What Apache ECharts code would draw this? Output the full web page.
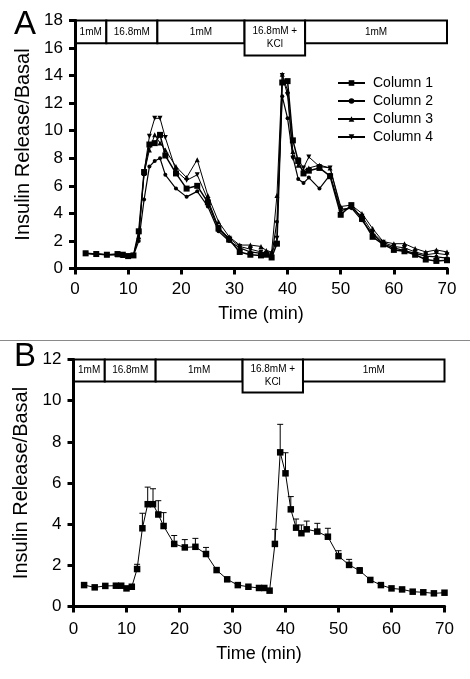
<!DOCTYPE html>
<html>
<head>
<meta charset="utf-8">
<script src="https://cdn.jsdelivr.net/npm/echarts@6/dist/echarts.min.js"></script>
<style>
html,body{margin:0;padding:0;background:#fff;}
#chart{width:470px;height:679px;}
</style>
</head>
<body>
<div id="chart"></div>
<script>
// ---------- Data ----------
const xTicks = [0, 10, 20, 30, 40, 50, 60, 70];
const yTicksA = [0, 2, 4, 6, 8, 10, 12, 14, 16, 18];
const yTicksB = [0, 2, 4, 6, 8, 10, 12];

const bandStart  = [0, 5.9, 15.5, 31.9, 43.3];
const bandEnd    = [5.9, 15.5, 31.9, 43.3, 70];
const bandLabels = ['1mM', '16.8mM', '1mM', '16.8mM +\nKCl', '1mM'];
const bandDeep   = [false, false, false, true, false];

const timesA = [2,4,6,8,9,10,11,12,13,14,15,16,17,19,21,23,25,27,29,31,33,35,36,37,38,39,40,41,42,43,44,46,48,50,52,54,56,58,60,62,64,66,68,70];
const col1 = [1.1,1.05,1.0,1.05,1.0,0.9,0.95,2.7,7.0,9.0,9.1,9.7,8.2,6.9,5.8,6.0,4.8,2.9,2.1,1.2,1.0,0.95,1.0,0.8,1.8,13.5,13.6,9.3,7.8,6.9,7.1,7.3,6.7,3.9,4.6,3.6,2.3,1.75,1.35,1.25,1.0,0.65,0.55,0.6];
const col2 = [1.1,1.05,1.0,1.0,0.95,0.9,0.95,2.0,5.0,7.4,7.8,8.0,6.8,5.8,5.2,5.6,4.5,2.7,2.0,1.5,1.2,1.1,1.0,0.9,3.4,12.5,10.9,8.1,6.5,6.2,6.6,5.8,6.8,4.2,4.4,3.5,2.5,1.8,1.5,1.3,1.1,0.9,0.85,0.75];
const col3 = [1.1,1.05,1.0,1.0,0.95,0.9,0.95,2.3,6.9,8.6,9.7,9.1,8.6,7.4,6.6,7.9,5.3,3.4,2.3,1.7,1.7,1.6,1.3,1.2,5.3,14.1,12.9,8.5,7.5,7.1,7.3,7.5,7.3,4.5,4.6,4.0,2.9,1.95,1.8,1.8,1.45,1.2,1.35,1.2];
const col4 = [1.1,1.05,1.0,1.0,0.95,0.9,0.95,2.5,7.0,9.6,10.9,10.9,9.5,7.1,6.4,6.8,5.0,3.0,2.2,1.6,1.4,1.2,1.1,1.0,2.2,14.0,12.6,8.0,7.9,7.3,8.1,7.4,7.3,4.3,4.4,3.8,2.6,1.9,1.6,1.5,1.2,1.0,1.1,1.0];
const seriesNamesA = ['Column 1', 'Column 2', 'Column 3', 'Column 4'];

const timesB = [2,4,6,8,9,10,11,12,13,14,15,16,17,19,21,23,25,27,29,31,33,35,36,37,38,39,40,41,42,43,44,46,48,50,52,54,56,58,60,62,64,66,68,70];
const meanB  = [1.04,0.93,1.0,1.01,1.01,0.88,0.96,1.82,3.8,4.97,4.97,4.47,3.91,3.04,2.87,2.9,2.55,1.77,1.32,1.04,0.96,0.9,0.9,0.77,3.04,7.49,6.47,4.72,3.83,3.56,3.75,3.64,3.39,2.45,2.02,1.74,1.29,1.04,0.88,0.83,0.72,0.69,0.64,0.67];
const upperB = [null,null,null,null,null,null,null,2.05,4.53,5.8,5.72,5.14,4.56,3.45,3.25,3.31,2.87,null,null,null,null,null,null,null,3.75,8.85,7.47,5.34,4.25,3.96,4.15,4.04,3.8,2.71,2.29,1.89,null,null,null,null,null,null,null,null];

// ---------- Helpers ----------
const FONT = "'Liberation Sans', Arial, Helvetica, sans-serif";
const zip = (xs, ys) => xs.map((x, i) => [x, ys[i]]);

function bandAreas(ymax, fracNormal, fracDeep) {
  return bandStart.map((s, i) => {
    const f = bandDeep[i] ? fracDeep : fracNormal;
    return [
      { xAxis: s, yAxis: ymax * (1 - f), name: bandLabels[i] },
      { xAxis: bandEnd[i], yAxis: ymax }
    ];
  });
}
const markAreaStyle = {
  silent: true,
  itemStyle: { color: '#fff', borderColor: '#000', borderWidth: 2 },
  label: { show: true, position: 'inside', color: '#000', fontSize: 10, fontFamily: FONT, lineHeight: 13 }
};

function mainX(gi, nameGap, labelMargin) {
  return {
    gridIndex: gi, type: 'value', min: 0, max: 70, interval: 10, z: 5,
    axisLine: { show: true, lineStyle: { color: '#000', width: 3 } },
    axisTick: { show: true, length: 6, lineStyle: { color: '#000', width: 3 } },
    axisLabel: { color: '#000', fontSize: 17, fontFamily: FONT, margin: labelMargin,
      formatter: v => xTicks.includes(v) ? String(v) : '' },
    splitLine: { show: false },
    name: 'Time (min)', nameLocation: 'middle', nameGap: nameGap,
    nameTextStyle: { color: '#000', fontSize: 18, fontFamily: FONT }
  };
}
function frameX(gi) {
  return { gridIndex: gi, type: 'value', min: 0, max: 70, position: 'top', z: 5,
    axisLine: { show: true, lineStyle: { color: '#000', width: 3 } },
    axisTick: { show: false }, axisLabel: { show: false }, splitLine: { show: false } };
}
function mainY(gi, ymax, ticks) {
  return {
    gridIndex: gi, type: 'value', min: 0, max: ymax, interval: 2, z: 5,
    axisLine: { show: true, lineStyle: { color: '#000', width: 3 } },
    axisTick: { show: true, length: 6, lineStyle: { color: '#000', width: 3 } },
    axisLabel: { color: '#000', fontSize: 17, fontFamily: FONT, margin: 12,
      formatter: v => ticks.includes(v) ? String(v) : '' },
    splitLine: { show: false },
    name: 'Insulin Release/Basal', nameLocation: 'middle', nameGap: 38, nameRotate: 90,
    nameTextStyle: { color: '#000', fontSize: 20, fontFamily: FONT }
  };
}
function frameY(gi, ymax) {
  return { gridIndex: gi, type: 'value', min: 0, max: ymax, position: 'right', z: 5,
    axisLine: { show: true, lineStyle: { color: '#000', width: 3 } },
    axisTick: { show: false }, axisLabel: { show: false }, splitLine: { show: false } };
}

const symA = [
  { symbol: 'rect', size: 6, rotate: 0, width: 1.5 },
  { symbol: 'circle', size: 4, rotate: 0, width: 1.2 },
  { symbol: 'triangle', size: 5, rotate: 0, width: 1 },
  { symbol: 'triangle', size: 5, rotate: 180, width: 1 }
];
const colsA = [col1, col2, col3, col4];

const seriesA = colsA.map((vals, i) => {
  const s = {
    name: seriesNamesA[i], type: 'line', xAxisIndex: 0, yAxisIndex: 0,
    data: zip(timesA, vals),
    symbol: symA[i].symbol, symbolSize: symA[i].size, symbolRotate: symA[i].rotate,
    showAllSymbol: true,
    lineStyle: { color: '#000', width: symA[i].width },
    itemStyle: { color: '#000' },
    emphasis: { disabled: true }, animation: false, z: 3
  };
  if (i === 0) s.markArea = Object.assign({ data: bandAreas(18, 0.092, 0.141) }, markAreaStyle);
  return s;
});

const seriesB = [
  {
    name: 'mean', type: 'line', xAxisIndex: 2, yAxisIndex: 2,
    data: zip(timesB, meanB),
    symbol: 'rect', symbolSize: 6.5, showAllSymbol: true,
    lineStyle: { color: '#000', width: 1 },
    itemStyle: { color: '#000' },
    emphasis: { disabled: true }, animation: false, z: 3,
    markArea: Object.assign({ data: bandAreas(12, 0.089, 0.134) }, markAreaStyle)
  },
  {
    name: 'err', type: 'custom', xAxisIndex: 2, yAxisIndex: 2,
    data: timesB.map((t, i) => [t, meanB[i], upperB[i] == null ? meanB[i] : upperB[i]]),
    renderItem: function (params, api) {
      const p0 = api.coord([api.value(0), api.value(1)]);
      const p1 = api.coord([api.value(0), api.value(2)]);
      if (p0[1] - p1[1] < 1) return { type: 'group', children: [] };
      const st = { stroke: '#000', lineWidth: 1 };
      return { type: 'group', children: [
        { type: 'line', shape: { x1: p0[0], y1: p0[1], x2: p1[0], y2: p1[1] }, style: st },
        { type: 'line', shape: { x1: p1[0] - 3, y1: p1[1], x2: p1[0] + 3, y2: p1[1] }, style: st }
      ]};
    },
    animation: false, silent: true, z: 4
  }
];

const chart = echarts.init(document.getElementById('chart'), null, { renderer: 'canvas' });
chart.setOption({
  backgroundColor: '#fff',
  animation: false,
  textStyle: { fontFamily: FONT },
  grid: [
    { left: 75, top: 20.5, width: 372, height: 248 },
    { left: 73.5, top: 359.5, width: 371, height: 247 }
  ],
  xAxis: [ mainX(0, 37, 12), frameX(0), mainX(1, 39, 14), frameX(1) ],
  yAxis: [ mainY(0, 18, yTicksA), frameY(0, 18), mainY(1, 12, yTicksB), frameY(1, 12) ],
  legend: {
    data: seriesNamesA, orient: 'vertical', left: 332, top: 71,
    itemWidth: 27, itemHeight: 7, itemGap: 4,
    textStyle: { color: '#000', fontSize: 14, fontFamily: FONT, padding: [0, 0, 0, 3] },
    selectedMode: false
  },
  graphic: [
    { type: 'text', left: 14, top: 8, style: { text: 'A', fontSize: 33, fontFamily: FONT, fill: '#000' } },
    { type: 'text', left: 14, top: 340, style: { text: 'B', fontSize: 33, fontFamily: FONT, fill: '#000' } },
    { type: 'line', shape: { x1: 0, y1: 340.5, x2: 470, y2: 340.5 }, style: { stroke: '#8a8a8a', lineWidth: 1 } }
  ],
  series: seriesA.concat(seriesB)
});
</script>
</body>
</html>
